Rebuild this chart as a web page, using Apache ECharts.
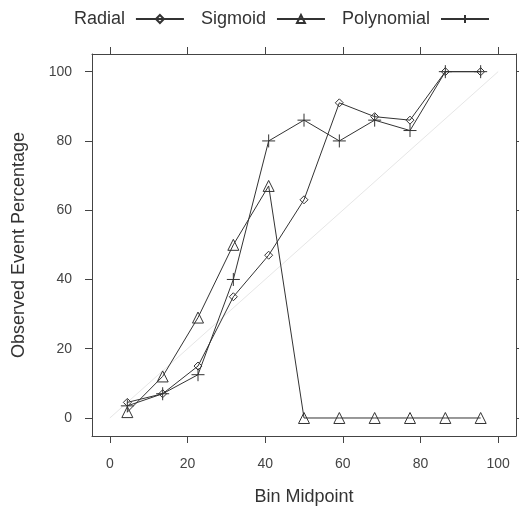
<!DOCTYPE html>
<html>
<head>
<meta charset="utf-8">
<script src="https://cdn.jsdelivr.net/npm/echarts@6/dist/echarts.min.js"></script>
<style>
	html, body { margin: 0; padding: 0; background: #fff; }
	#main { width: 519px; height: 511px; }
</style>
</head>
<body>
<div id="main"></div>
<script>
// bin midpoints
var binMid = [4.5, 13.6, 22.7, 31.8, 40.9, 50, 59.1, 68.2, 77.3, 86.4, 95.5];
// observed event percentage per model
var radial = [4.5, 7, 15, 35, 47, 63, 91, 87, 86, 100, 100];
var sigmoid = [1.7, 12, 29, 50, 67, 0, 0, 0, 0, 0, 0];
var polynomial = [3.5, 7, 12.5, 40, 80, 86, 80, 86, 83, 100, 100];
// reference line y = x
var refLine = [[0, 0], [100, 100]];
var xTicks = [0, 20, 40, 60, 80, 100];
var yTicks = [0, 20, 40, 60, 80, 100];

function pairs(ys) {
	return binMid.map(function (x, i) { return [x, ys[i]]; });
}

var ink = "#333";
var axisCol = "#444";
var font = "Liberation Sans";
var plusPath = "path://M0,5L10,5M5,0L5,10";

function makeAxis(pos, min, max, ticks, showLabel, nameText, gap, margin) {
	return {
		type: "value",
		position: pos,
		min: min,
		max: max,
		name: nameText,
		nameLocation: "middle",
		nameGap: gap,
		nameTextStyle: { color: ink, fontSize: 18, fontFamily: font },
		axisLine: { show: true, onZero: false, lineStyle: { color: axisCol, width: 1 } },
		axisTick: { show: true, customValues: ticks, length: 7, lineStyle: { color: axisCol } },
		axisLabel: { show: showLabel, customValues: ticks, margin: margin, color: axisCol, fontSize: 14, fontFamily: font },
		splitLine: { show: false }
	};
}

function modelSeries(name, ys, symbol, size) {
	return {
		name: name,
		type: "line",
		data: pairs(ys),
		symbol: symbol,
		symbolSize: size,
		showAllSymbol: true,
		lineStyle: { color: ink, width: 1 },
		itemStyle: { color: "rgba(0,0,0,0)", borderColor: ink, borderWidth: 1 },
		emphasis: { disabled: true },
		z: 3
	};
}

var myChart = echarts.init(document.getElementById("main"), null, { renderer: "canvas" });
var option = {
	animation: false,
	backgroundColor: "#fff",
	legend: {
		top: 5,
		right: 24,
		align: "right",
		itemWidth: 48,
		itemHeight: 10,
		itemGap: 16,
		textStyle: { color: ink, fontSize: 18, fontFamily: font, padding: [0, 6, 0, 0] },
		data: ["Radial", "Sigmoid", "Polynomial"]
	},
	grid: { left: 92, right: 3, top: 54, bottom: 74, containLabel: false },
	xAxis: [
		makeAxis("bottom", -4.6, 104.6, xTicks, true, "Bin Midpoint", 52, 21),
		makeAxis("top", -4.6, 104.6, xTicks, false, "", 0, 8)
	],
	yAxis: [
		makeAxis("left", -5.2, 105.1, yTicks, true, "Observed Event Percentage", 64, 20),
		makeAxis("right", -5.2, 105.1, yTicks, false, "", 0, 8)
	],
	series: [
		{
			name: "ref",
			type: "line",
			data: refLine,
			symbol: "none",
			lineStyle: { color: "#e6e6e6", width: 1 },
			emphasis: { disabled: true },
			z: 1
		},
		modelSeries("Radial", radial, "diamond", 8),
		modelSeries("Sigmoid", sigmoid, "triangle", 11),
		modelSeries("Polynomial", polynomial, plusPath, 13)
	]
};
myChart.setOption(option);
</script>
</body>
</html>
